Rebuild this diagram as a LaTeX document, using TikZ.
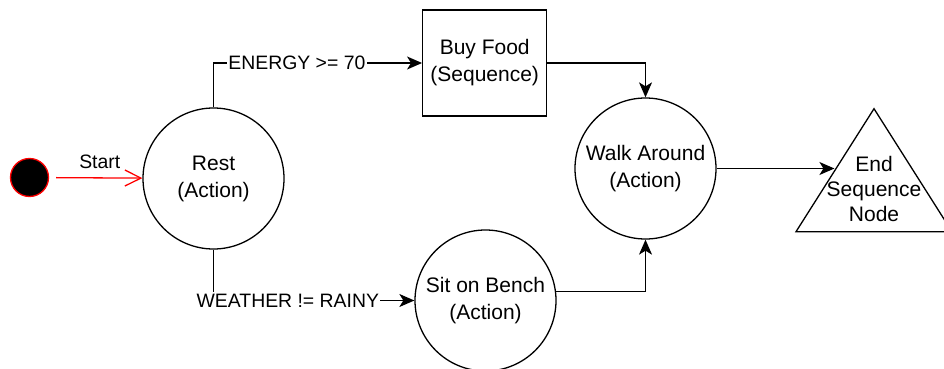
\documentclass[tikz,border=0pt]{standalone}
\usepackage{fontspec}
\setmainfont{Liberation Sans}
\usetikzlibrary{arrows.meta,shapes.geometric,positioning}

\begin{document}
\begin{tikzpicture}[
x=1pt, y=-1pt,
state/.style={
	circle, draw, line width=1.3pt,
	minimum size=141pt, inner sep=0pt,
	align=center, font=\fontsize{21}{27}\selectfont
},
seq/.style={
	rectangle, draw, line width=1.3pt,
	minimum width=124pt, minimum height=106pt,
	align=center, font=\fontsize{21}{27}\selectfont
},
goal/.style={
	isosceles triangle, isosceles triangle stretches,
	shape border rotate=90, draw, line width=1.3pt,
	minimum width=156pt, minimum height=123pt, inner sep=0pt
},
goaltext/.style={align=center, inner sep=0pt, font=\fontsize{21}{25}\selectfont},
guard/.style={fill=white, inner sep=1.5pt, font=\fontsize{19.4}{22}\selectfont},
flow/.style={-{Stealth[length=15pt,width=13pt,inset=4pt]}, line width=1.3pt}
]
\useasboundingbox (0,0) rectangle (944,369);
\node[circle, fill=black, draw=red, line width=1.3pt, minimum size=38pt] (init) at (29.5,177.5) {};
\node[state] (rest) at (213.5,178.5) {Rest\\(Action)};
\node[seq] (buy) at (484.7,63) {Buy Food\\(Sequence)};
\node[state] (sit) at (485.5,300.5) {Sit on Bench\\(Action)};
\node[state] (walk) at (645.5,168.5) {Walk Around\\(Action)};
% end node: the text runs over the sides, so it sits on its own
\node[goal, anchor=apex] (done) at (874,107) {};
\node[goaltext] (doneText) at (874,188.5) {End\\Sequence\\Node};
% start transition
\draw[red, line width=1.3pt, -{Straight Barb[length=16pt,width=16pt]}, shorten <=7pt] (init) -- (rest)
	node[midway, above=9pt, xshift=4pt, inner sep=0pt, text=black, font=\fontsize{19.4}{22}\selectfont] {Start};
% guarded branches
\draw[flow] (rest.north) |- (buy.west) node[guard, pos=0.7] {ENERGY >= 70};
\draw[flow] (rest.south) |- (sit.west) node[guard, pos=0.685] {WEATHER != RAINY};
\draw[flow] (buy.east) -| (walk.north);
\draw[flow] (sit.7) -| (walk.south);
\draw[flow] (walk.east) -- (walk.east -| done.left side);
\end{tikzpicture}
\end{document}
